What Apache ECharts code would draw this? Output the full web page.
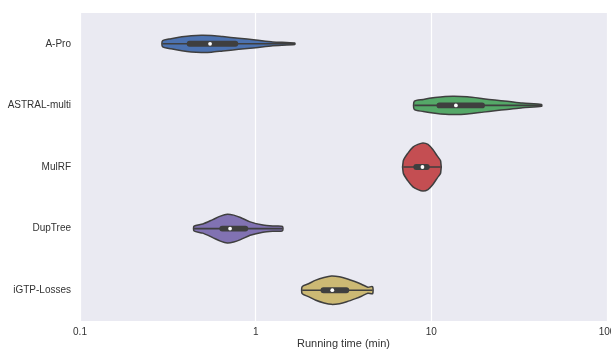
<!DOCTYPE html>
<html>
<head>
<meta charset="utf-8">
<script src="https://cdn.jsdelivr.net/npm/echarts@6/dist/echarts.min.js"></script>
<style>
  html, body { margin: 0; padding: 0; background: #ffffff; }
  #chart { width: 611px; height: 349px; }
</style>
</head>
<body>
<div id="chart"></div>
<script>
// Methods, top to bottom
const methods = ['A-Pro', 'ASTRAL-multi', 'MulRF', 'DupTree', 'iGTP-Losses'];
const colors = ['#4C72B0', '#55A868', '#C44E52', '#8172B2', '#CCB974'];

// Running time summary per method (minutes)
const minTime    = [0.295, 8.0, 6.92, 0.446, 1.84];
const q1Time     = [0.405, 10.7, 7.9, 0.621, 2.34];
const medianTime = [0.55, 13.8, 8.9, 0.715, 2.73];
const q3Time     = [0.796, 20.2, 9.8, 0.908, 3.41];
const maxTime    = [1.67, 42.4, 11.3, 1.42, 4.63];

// Density outlines: running time points and relative density at each
const aproT = [0.295, 0.33, 0.38, 0.43, 0.49, 0.56, 0.65, 0.8, 1.0, 1.25, 1.67];
const aproD = [0.125, 0.21, 0.29, 0.34, 0.36, 0.35, 0.30, 0.23, 0.16, 0.08, 0.03];
const astralT = [8.0, 9.0, 10.5, 12, 13.5, 16, 19.7, 23, 27, 33, 42.4];
const astralD = [0.175, 0.25, 0.325, 0.37, 0.38, 0.355, 0.28, 0.22, 0.17, 0.095, 0.04];
const mulrfT = [6.92, 7.36, 7.86, 8.39, 8.96, 9.57, 10.2, 10.8, 11.3];
const mulrfD = [0.25, 0.58, 0.83, 0.94, 1.0, 0.94, 0.73, 0.46, 0.25];
const duptreeT = [0.446, 0.50, 0.57, 0.63, 0.69, 0.75, 0.82, 0.93, 1.10, 1.25, 1.42];
const duptreeD = [0.10, 0.19, 0.375, 0.52, 0.60, 0.56, 0.46, 0.28, 0.15, 0.11, 0.095];
const igtpT = [1.84, 2.0, 2.2, 2.45, 2.7, 3.0, 3.3, 3.7, 4.0, 4.35, 4.63];
const igtpD = [0.146, 0.27, 0.42, 0.53, 0.59, 0.56, 0.48, 0.35, 0.25, 0.125, 0.146];

const profileT = [aproT, astralT, mulrfT, duptreeT, igtpT];
const profileD = [aproD, astralD, mulrfD, duptreeD, igtpD];

const xTicks = [0.1, 1, 10, 100];

const edgeColor = '#3f3f3f';
const font = 'Liberation Sans, Arial, sans-serif';

function renderViolin(params, api) {
  const i = api.value(0);
  const band = api.size([0, 1])[1];
  const halfMax = band * 0.39;
  const ts = profileT[i], ds = profileD[i];
  const top = [], bottom = [];
  for (let k = 0; k < ts.length; k++) {
    const p = api.coord([ts[k], i]);
    top.push([p[0], p[1] - ds[k] * halfMax]);
    bottom.push([p[0], p[1] + ds[k] * halfMax]);
  }
  const outline = top.concat(bottom.reverse());
  const cMin = api.coord([minTime[i], i]);
  const cMax = api.coord([maxTime[i], i]);
  const cQ1 = api.coord([q1Time[i], i]);
  const cQ3 = api.coord([q3Time[i], i]);
  const cMed = api.coord([medianTime[i], i]);
  const boxH = band * 0.095;
  return {
    type: 'group',
    children: [
      {
        type: 'polygon',
        shape: { points: outline, smooth: 0.25 },
        style: { fill: colors[i], stroke: edgeColor, lineWidth: 1.5 }
      },
      {
        type: 'line',
        shape: { x1: cMin[0], y1: cMin[1], x2: cMax[0], y2: cMax[1] },
        style: { stroke: edgeColor, lineWidth: 1.6 }
      },
      {
        type: 'rect',
        shape: { x: cQ1[0], y: cQ1[1] - boxH / 2, width: cQ3[0] - cQ1[0], height: boxH, r: boxH / 2 },
        style: { fill: edgeColor }
      },
      {
        type: 'circle',
        shape: { cx: cMed[0], cy: cMed[1], r: 1.9 },
        style: { fill: '#ffffff' }
      }
    ]
  };
}

const chart = echarts.init(document.getElementById('chart'), null, { renderer: 'canvas' });
chart.setOption({
  animation: false,
  backgroundColor: '#ffffff',
  textStyle: { fontFamily: font },
  grid: {
    left: 80, right: 4, top: 13, bottom: 28,
    containLabel: false, outerBoundsMode: 'none',
    backgroundColor: '#EAEAF2', show: true, borderWidth: 0
  },
  xAxis: {
    type: 'log',
    logBase: 10,
    min: xTicks[0],
    max: xTicks[xTicks.length - 1],
    name: 'Running time (min)',
    nameLocation: 'middle',
    nameGap: 17,
    nameMoveOverlap: false,
    nameTextStyle: { fontSize: 11, color: '#333333', fontFamily: font, verticalAlign: 'top' },
    axisLine: { show: false },
    axisTick: { show: false },
    axisLabel: {
      fontSize: 10, color: '#333333', margin: 6,
      fontFamily: font,
      hideOverlap: false,
      formatter: v => String(+v.toPrecision(3))
    },
    splitLine: { show: true, lineStyle: { color: '#ffffff', width: 1.2 } }
  },
  yAxis: {
    type: 'category',
    data: methods,
    inverse: true,
    axisLine: { show: false },
    axisTick: { show: false },
    splitLine: { show: false },
    axisLabel: { fontSize: 10, color: '#333333', margin: 9, fontFamily: font }
  },
  series: [{
    type: 'custom',
    renderItem: renderViolin,
    encode: { y: 0 },
    data: methods.map((m, i) => [i, medianTime[i]]),
    dimensions: ['idx', 'median'],
    clip: false,
    z: 5
  }]
});
</script>
</body>
</html>
